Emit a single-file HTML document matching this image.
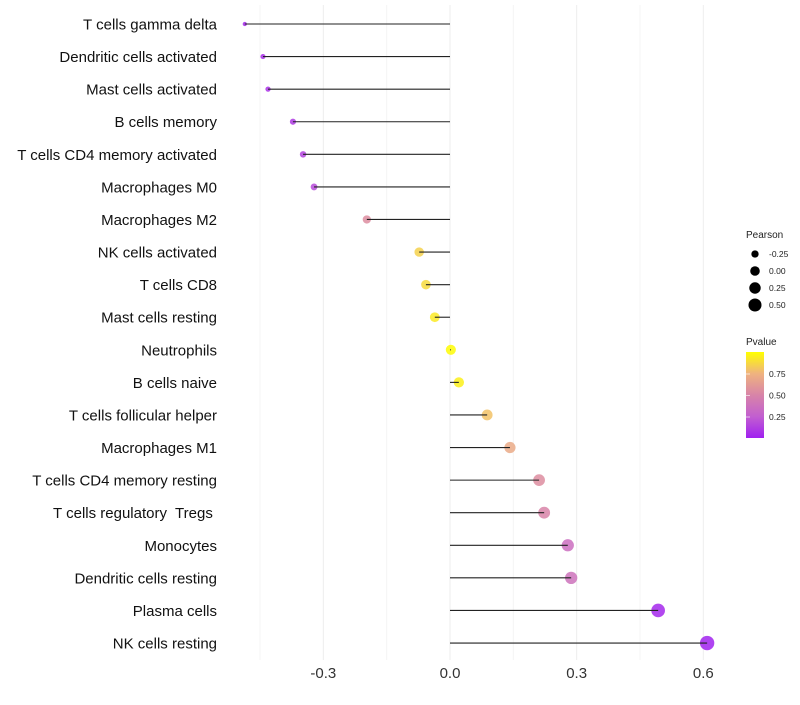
<!DOCTYPE html>
<html><head><meta charset="utf-8"><style>
body{margin:0;background:#fff;}
svg text{font-family:"Liberation Sans",sans-serif;white-space:pre;}
</style></head><body>
<svg id="chart" width="800" height="700" xml:space="preserve">
<g id="grid"></g>
<g id="dots"></g>
<g id="marks"></g>
<g id="ylabels"></g>
<g id="xlabels"></g>
<g id="legend">
<text x="746" y="238" font-size="10" fill="#222">Pearson</text>
<defs><linearGradient id="pg" x1="0" y1="1" x2="0" y2="0">
<stop offset="0" stop-color="#A020F0"/><stop offset="0.25" stop-color="#C25FD0"/><stop offset="0.5" stop-color="#D884A8"/><stop offset="0.75" stop-color="#EFB37F"/><stop offset="1" stop-color="#FFFF00"/></linearGradient></defs>
<text x="746" y="345" font-size="10" fill="#222">Pvalue</text>
<rect x="746" y="352" width="18" height="86" fill="url(#pg)"/>
</g>
</svg>
<script>
const cells=["T cells gamma delta","Dendritic cells activated","Mast cells activated","B cells memory","T cells CD4 memory activated","Macrophages M0","Macrophages M2","NK cells activated","T cells CD8","Mast cells resting","Neutrophils","B cells naive","T cells follicular helper","Macrophages M1","T cells CD4 memory resting","T cells regulatory  Tregs ","Monocytes","Dendritic cells resting","Plasma cells","NK cells resting"];
const pearson=[-0.486,-0.443,-0.431,-0.372,-0.348,-0.322,-0.197,-0.073,-0.057,-0.036,0.002,0.021,0.088,0.142,0.211,0.223,0.279,0.287,0.493,0.609];
const pvalue=[0.04,0.06,0.07,0.10,0.14,0.17,0.55,0.85,0.88,0.93,0.99,0.95,0.80,0.70,0.55,0.50,0.35,0.38,0.03,0.01];
const xTicks=[-0.3,0,0.3,0.6];
const xTickLabels=["-0.3","0.0","0.3","0.6"];
const sizeLegend=[-0.25,0,0.25,0.5];
const sizeLegendLabels=["-0.25","0.00","0.25","0.50"];
const pLegend=[0.75,0.5,0.25];
const pLegendLabels=["0.75","0.50","0.25"];

const NS="http://www.w3.org/2000/svg";
const xs=v=>450+v*422.2;
const ys=i=>24+i*32.58;
const rs=v=>Math.sqrt(Math.max(2.25,25.5+43*v));
const stops=[[0,[160,32,240]],[0.25,[194,95,208]],[0.5,[216,132,168]],[0.75,[239,179,127]],[1,[255,255,0]]];
function col(p){for(let k=1;k<stops.length;k++){if(p<=stops[k][0]){const a=stops[k-1],b=stops[k],t=(p-a[0])/(b[0]-a[0]);const c=a[1].map((v,j)=>Math.round(v+(b[1][j]-v)*t));return`rgb(${c})`;}}return"rgb(255,255,0)";}
const pScale=p=>438.5-p*86;
function mk(t,a,parent){const e=document.createElementNS(NS,t);for(const k in a)e.setAttribute(k,a[k]);document.getElementById(parent).appendChild(e);return e;}

[-0.45,-0.15,0.15,0.45].forEach(v=>{const l=mk("line",{x1:xs(v),x2:xs(v),y1:5,y2:660,stroke:"#f4f4f4","stroke-width":1},"grid");

});
xTicks.forEach((v,i)=>{const l=mk("line",{x1:xs(v),x2:xs(v),y1:5,y2:660,stroke:"#eeeeee","stroke-width":1},"grid");


const t=mk("text",{x:xs(v),y:678,"font-size":15,fill:"#333","text-anchor":"middle"},"xlabels");t.textContent=xTickLabels[i];

});

cells.forEach((c,i)=>{const y=ys(i);
const t=mk("text",{x:217,y:y+5.5,"font-size":15,fill:"#111","text-anchor":"end"},"ylabels");t.textContent=c;


const d=mk("circle",{cx:xs(pearson[i]),cy:y,r:rs(pearson[i]),fill:col(pvalue[i]),"fill-opacity":0.85},"dots");


const l=mk("line",{x1:xs(0),x2:xs(pearson[i]),y1:y,y2:y,stroke:"#222","stroke-width":1.1},"marks");

});

sizeLegend.forEach((v,i)=>{const y=254+i*17;
const c=mk("circle",{cx:755,cy:y,r:rs(v)*0.95,fill:"#000"},"legend");


const t=mk("text",{x:769,y:y+3,"font-size":8.5,fill:"#222"},"legend");t.textContent=sizeLegendLabels[i];

});
pLegend.forEach((p,i)=>{const y=pScale(p);
const k=mk("line",{x1:746,x2:750,y1:y,y2:y,stroke:"#fff","stroke-opacity":0.6},"legend");


const t=mk("text",{x:769,y:y+3,"font-size":8.5,fill:"#222"},"legend");t.textContent=pLegendLabels[i];

});
</script>
</body></html>
